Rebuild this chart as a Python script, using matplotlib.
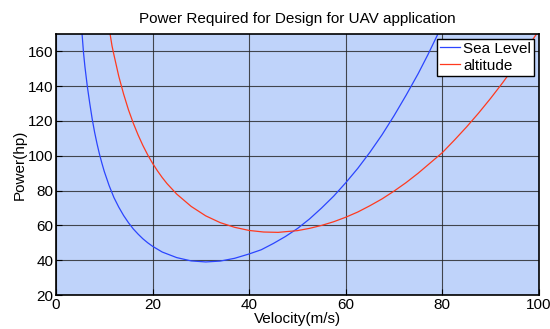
import matplotlib
matplotlib.use("Agg")
import matplotlib.pyplot as plt

plt.rcParams['font.family'] = ['Liberation Sans', 'DejaVu Sans']

# values
v_sea = [5.4, 5.7, 6, 6.5, 7, 7.5, 8, 8.5, 9, 9.5, 10, 11, 12, 13, 14, 15, 16,
         17, 18, 19, 20, 22, 25, 28, 31, 34, 37, 40, 42.5, 45, 47.5, 50, 52.5,
         55, 57.5, 60, 62.5, 65, 67.5, 70, 72.5, 75, 77, 79]
p_sea = [170, 159.2, 151, 139.6, 130, 121.1, 113.5, 106.9, 101, 95.8, 91, 82.9,
         76, 70.5, 65.7, 61.6, 58, 55, 52.3, 50, 48, 44.7, 41.5, 39.6, 39,
         39.5, 41.1, 43.6, 46, 49.6, 53.6, 58.2, 63.7, 70, 76.8, 84.5, 92.8,
         102, 112, 123, 134.8, 147.2, 158, 169.5]
v_alt = [11.2, 11.6, 12, 13, 14, 15, 16, 17, 18, 19, 20, 21, 22, 23, 25, 28,
         31, 34, 37, 40, 43, 46, 50, 52.5, 55, 57.5, 60, 62.5, 65, 67.5, 70,
         72.5, 75, 77.5, 80, 82.5, 85, 87.5, 90, 92.5, 95, 97.5, 100]
p_alt = [170, 163.2, 158, 145.7, 135.5, 126.5, 118.8, 112, 105.9, 100.5, 95.7,
         91.4, 87.5, 84, 78, 70.9, 65.5, 61.6, 58.9, 57.1, 56.2, 56, 57, 58.3,
         60, 62.1, 64.7, 67.7, 71.3, 75.2, 79.7, 84.6, 90, 95.9, 101.8, 109,
         116.5, 124.5, 133, 142, 151.6, 161.8, 172]

fig = plt.figure(figsize=(5.5, 3.29), dpi=100)
ax = fig.add_axes([0.1018, 0.1033, 0.878, 0.7934])
ax.set_facecolor('#bfd3fa')

ax.plot(v_sea, p_sea, color='#2b45ff', lw=0.9, label='Sea Level')
ax.plot(v_alt, p_alt, color='#ff3a1e', lw=0.9, label='altitude')

ax.set_xlim(0, 100)
ax.set_ylim(20, 170)
ax.set_xticks([0, 20, 40, 60, 80, 100])
ax.set_yticks([20, 40, 60, 80, 100, 120, 140, 160])
ax.grid(True, color='#222222', lw=0.8, alpha=0.8)
ax.tick_params(direction='in', labelsize=11, length=4, color='k', pad=2)
for s in ax.spines.values():
    s.set_linewidth(1.2)

ax.set_xlabel('Velocity(m/s)', fontsize=11, labelpad=0)
ax.set_ylabel('Power(hp)', fontsize=11, labelpad=1)
ax.set_title('Power Required for Design for UAV application', fontsize=11, pad=8)

leg = ax.legend(loc='upper right', fontsize=11, fancybox=False, framealpha=1,
                edgecolor='k', handlelength=1.3, handletextpad=0.2,
                borderpad=0.2, borderaxespad=0.3, labelspacing=0.2)
leg.get_frame().set_linewidth(1.0)

fig.savefig('out.png', dpi=100)
